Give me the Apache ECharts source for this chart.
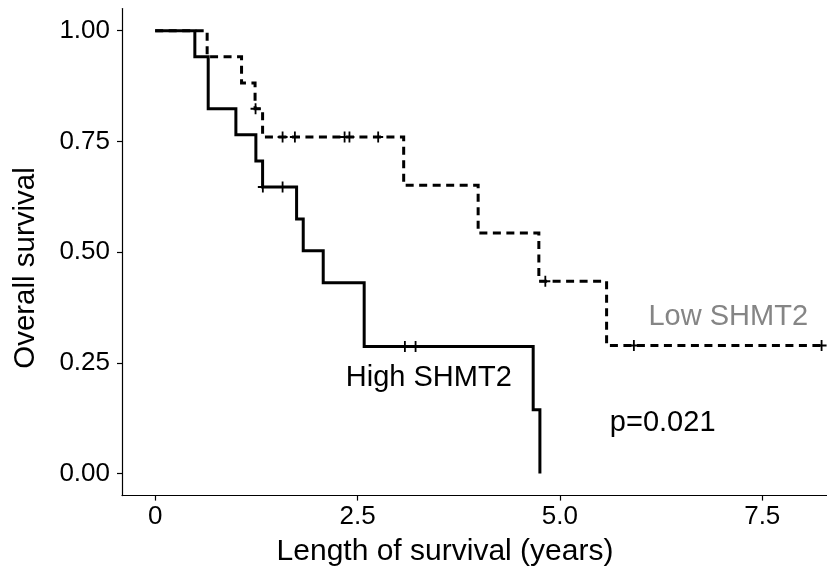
<!DOCTYPE html>
<html>
<head>
<meta charset="utf-8">
<script src="https://cdn.jsdelivr.net/npm/echarts@6/dist/echarts.min.js"></script>
<style>
html,body{margin:0;padding:0;background:#fff;}
#c{width:827px;height:569px;}
</style>
</head>
<body>
<div id="c"></div>
<script>
// ---- data ----
var highTime = [0, 0.49, 0.655, 0.997, 1.244, 1.327, 1.747, 1.829, 2.076, 2.582, 4.67, 4.753];
var highSurv = [1, 0.941, 0.824, 0.765, 0.706, 0.647, 0.575, 0.503, 0.431, 0.287, 0.144, 0];
var lowTime = [0, 0.642, 1.067, 1.234, 1.327, 3.07, 3.99, 4.74, 5.577, 8.233];
var lowSurv = [1, 0.941, 0.882, 0.824, 0.760, 0.651, 0.543, 0.434, 0.289, 0.289];
var highCensTime = [1.33, 1.574, 3.085, 3.217];
var highCensSurv = [0.647, 0.647, 0.287, 0.287];
var lowCensTime = [1.24, 1.574, 1.726, 2.34, 2.40, 2.755, 4.82, 5.914, 8.233];
var lowCensSurv = [0.824, 0.76, 0.76, 0.76, 0.76, 0.76, 0.434, 0.289, 0.289];
var xTicks = [0, 2.5, 5, 7.5];
var yTicks = [0, 0.25, 0.5, 0.75, 1];
var annoText = ['High SHMT2', 'Low SHMT2', 'p=0.021'];
var annoTime = [3.38, 7.08, 6.27];
var annoSurv = [0.215, 0.353, 0.114];
var xTitle = 'Length of survival (years)';
var yTitle = 'Overall survival';

var FONT = '"Liberation Sans", Arial, Helvetica, sans-serif';
function zip(a, b) { return a.map(function (v, i) { return [v, b[i]]; }); }
var CROSS = 'path://M0,4.1H10V5.9H0Z M4.1,0H5.9V10H4.1Z';
var annoColors = ['#000000', '#858585', '#000000'];

var chart = echarts.init(document.getElementById('c'), null, {renderer: 'canvas'});
chart.setOption({
  backgroundColor: '#ffffff',
  animation: false,
  grid: {left: 122, top: 8.6, width: 705, height: 487},
  xAxis: {
    type: 'value', min: -0.41, max: 8.3,
    axisLine: {show: true, onZero: false, lineStyle: {color: '#000', width: 1.2}},
    axisTick: {show: true, length: 5, lineStyle: {color: '#000', width: 1.2}, customValues: xTicks},
    axisLabel: {fontFamily: FONT, fontSize: 26, color: '#000', margin: 8, customValues: xTicks,
      formatter: function (v) { return v === 0 ? '0' : v.toFixed(1); }},
    splitLine: {show: false}
  },
  yAxis: {
    type: 'value', min: -0.05, max: 1.05,
    axisLine: {show: true, onZero: false, lineStyle: {color: '#000', width: 1.2}},
    axisTick: {show: true, length: 5, lineStyle: {color: '#000', width: 1.2}, customValues: yTicks},
    axisLabel: {fontFamily: FONT, fontSize: 26, color: '#000', margin: 12, customValues: yTicks,
      formatter: function (v) { return v.toFixed(2); }},
    splitLine: {show: false}
  },
  graphic: [
    {type: 'text', x: 445, y: 552, silent: true,
      style: {text: xTitle, fontFamily: FONT, fontSize: 30, fill: '#000',
        align: 'center', verticalAlign: 'middle'}},
    {type: 'text', x: 26, y: 268, rotation: Math.PI / 2, silent: true,
      style: {text: yTitle, fontFamily: FONT, fontSize: 29.5, fill: '#000',
        align: 'center', verticalAlign: 'middle'}}
  ],
  series: [
    {type: 'line', step: 'end', data: zip(highTime, highSurv), showSymbol: false,
      lineStyle: {color: '#000', width: 3, cap: 'butt', join: 'miter'}, z: 3},
    {type: 'line', step: 'end', data: zip(lowTime, lowSurv), showSymbol: false,
      lineStyle: {color: '#000', width: 3, type: [8, 5.5], cap: 'butt', join: 'miter'}, z: 3},
    {type: 'scatter', data: zip(highCensTime, highCensSurv), symbol: CROSS, symbolSize: [10, 11],
      itemStyle: {color: '#000', opacity: 1}, z: 4},
    {type: 'scatter', data: zip(lowCensTime, lowCensSurv), symbol: CROSS, symbolSize: [10, 11],
      itemStyle: {color: '#000', opacity: 1}, z: 4},
    {type: 'scatter', symbolSize: 0, silent: true, z: 5,
      itemStyle: {color: '#000', opacity: 1},
      data: annoText.map(function (t, i) {
        return {value: [annoTime[i], annoSurv[i]], name: t,
          label: {show: true, position: 'inside', formatter: t, fontFamily: FONT, fontSize: 29,
            color: annoColors[i], opacity: 1}};
      })}
  ]
});
</script>
</body>
</html>
